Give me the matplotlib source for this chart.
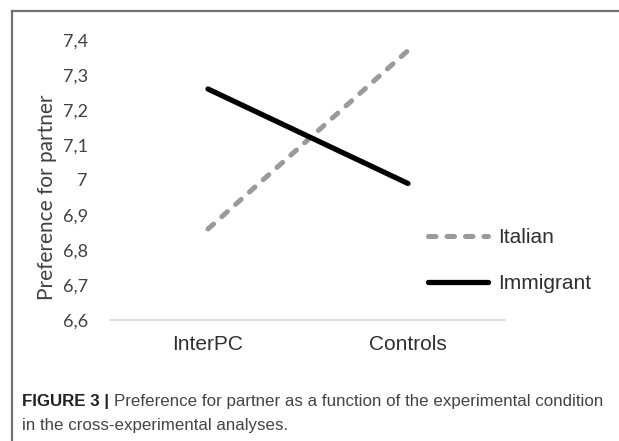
import matplotlib
matplotlib.use('Agg')
import matplotlib.pyplot as plt
from matplotlib.lines import Line2D

conditions = ['InterPC', 'Controls']
italian = [6.86, 7.37]
immigrant = [7.26, 6.99]
yticks = [6.6, 6.7, 6.8, 6.9, 7.0, 7.1, 7.2, 7.3, 7.4]
ytick_labels = ['6,6', '6,7', '6,8', '6,9', '7', '7,1', '7,2', '7,3', '7,4']

sans = ['Liberation Sans', 'DejaVu Sans']
tickfont = ['Lato', 'DejaVu Sans']

fig = plt.figure(figsize=(6.19, 4.41), dpi=100)
ax = fig.add_axes([0.1777, 0.2744, 0.6381, 0.6349])

x = list(range(len(conditions)))
ax.plot(x, italian, color='#9a9a9a', lw=3.6, dashes=(1.5, 2.2),
        solid_capstyle='round', dash_capstyle='round', label='Italian')
ax.plot(x, immigrant, color='black', lw=3.8, solid_capstyle='round',
        label='Immigrant')

ax.set_xlim(-0.49, 1.485)
ax.set_ylim(6.6, 7.4)
ax.set_yticks(yticks)
ax.set_yticklabels(ytick_labels, family=tickfont, fontsize=13, color='#404040')
ax.set_xticks(x)
ax.set_xticklabels(conditions, family=sans, fontsize=15, color='#303030')
ax.tick_params(axis='both', length=0)
ax.tick_params(axis='y', pad=16)
ax.tick_params(axis='x', pad=11)

for s in ['top', 'right', 'left']:
    ax.spines[s].set_visible(False)
ax.spines['bottom'].set_color('#d9d9d9')
ax.spines['bottom'].set_linewidth(1.2)

ax.set_ylabel('Preference for partner', family=tickfont, fontsize=15,
              color='#404040')
ax.yaxis.set_label_coords(-0.135, 0.4375)

leg = fig.legend(loc='upper left', bbox_to_anchor=(428 / 619, 1 - 228 / 441),
                 frameon=False, borderpad=0, borderaxespad=0,
                 handlelength=2.9, handletextpad=0.45, labelspacing=1.3,
                 prop={'family': sans, 'size': 15})
for t in leg.get_texts():
    t.set_color('#303030')

# outer frame of the figure panel
fig.add_artist(Line2D([0.02, 0.02], [0.0, 0.974], transform=fig.transFigure,
                      color='#707070', lw=1.6))
fig.add_artist(Line2D([0.02, 1.0], [0.974, 0.974], transform=fig.transFigure,
                      color='#707070', lw=1.6))

fig.canvas.draw()
r = fig.canvas.get_renderer()
cap_size = 12.2
bold = fig.text(22 / 619, 1 - 406 / 441, 'FIGURE 3 |', family=sans,
                fontsize=cap_size, weight='bold', color='#222222',
                va='baseline')
bb = bold.get_window_extent(r)
fig.text((bb.x1 + 5) / 619, 1 - 406 / 441,
         'Preference for partner as a function of the experimental condition',
         family=sans, fontsize=cap_size, color='#444444', va='baseline')
fig.text(22 / 619, 1 - 430 / 441, 'in the cross-experimental analyses.',
         family=sans, fontsize=cap_size, color='#444444', va='baseline')

fig.savefig('out.png', dpi=100)
